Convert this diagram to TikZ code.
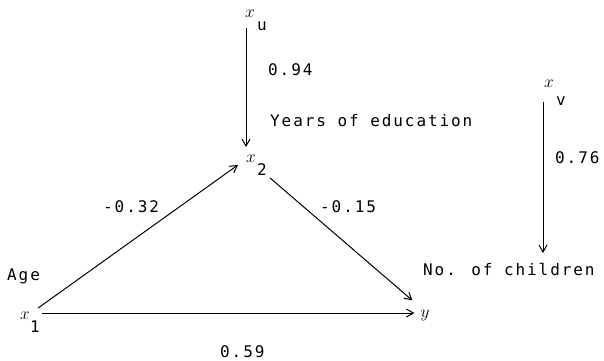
\documentclass[tikz,border=0pt]{standalone}
\usepackage{fontspec}
\usetikzlibrary{arrows.meta}
\newfontfamily\lab[LetterSpace=12]{DejaVu Sans Mono}
\begin{document}
\begin{tikzpicture}[x=1pt,y=-1pt,
  lbl/.style={font=\fontsize{16}{18}\lab, inner sep=0pt, anchor=base west},
  var/.style={font=\fontsize{18}{20}\selectfont, inner sep=0pt},
  arr/.style={-{Straight Barb[length=7pt,width=8pt]}, line width=1pt}]
\useasboundingbox (0,0) rectangle (604,360);
% variables
\node[var] (xu) at (250,14) {$x$};
\node[lbl] (xus) at (257,30) {u};
\node[var] (x2) at (251,159) {$x$};
\node[lbl] (x2s) at (257,175) {2};
\node[var] (xv) at (549,84) {$x$};
\node[lbl] (xvs) at (556,105) {v};
\node[var] (x1) at (25,316) {$x$};
\node[lbl] (x1s) at (30,332) {1};
\node[var] (y) at (425,315) {$y$};
\coordinate (vend) at (543,253);
% labels
\node[lbl] (l94) at (268,75) {0.94};
\node[lbl] (edu) at (270,126) {Years of education};
\node[lbl] (l32) at (103,212) {-0.32};
\node[lbl] (l15) at (320,212) {-0.15};
\node[lbl] (l76) at (555,163) {0.76};
\node[lbl] (nc) at (423,275) {No. of children};
\node[lbl] (age) at (7,280) {Age};
\node[lbl] (l59) at (220,357) {0.59};
% connectors
\draw[arr] ([shift={(-4,10)}]xu.south) -- ([shift={(-5,-8)}]x2.north);
\draw[arr] ([shift={(-6,14)}]xv.south) -- (vend);
\draw[arr] ([shift={(12,-3)}]x1.east) -- ([shift={(-6,-2)}]y.west);
\draw[arr] ([shift={(8,-4)}]x1.north east) -- ([shift={(-8,2)}]x2.south west);
\draw[arr] ([shift={(14,15)}]x2.south east) -- ([shift={(-8,-9)}]y.north west);
\end{tikzpicture}
\end{document}
